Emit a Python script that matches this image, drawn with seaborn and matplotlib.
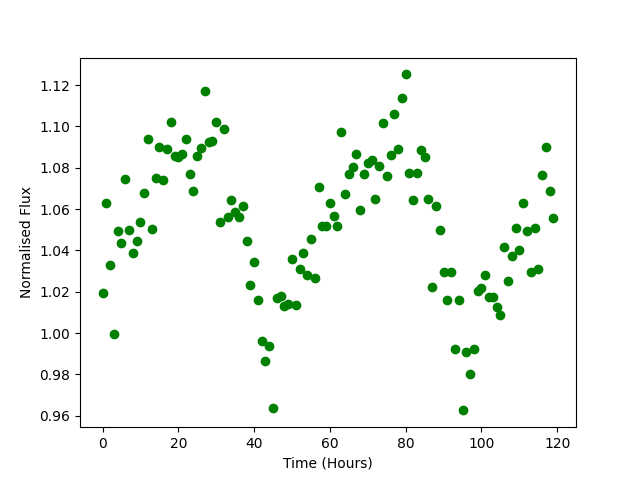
import matplotlib
matplotlib.use("Agg")
import matplotlib.pyplot as plt
import seaborn as sns
import pandas as pd

# Data
time_hours = [
    0, 1, 2, 3, 4, 5, 6, 7, 8, 9, 10, 11, 12, 13, 14, 15, 16, 17, 18, 19,
    20, 21, 22, 23, 24, 25, 26, 27, 28, 29, 30, 31, 32, 33, 34, 35, 36, 37, 38, 39,
    40, 41, 42, 43, 44, 45, 46, 47, 48, 49, 50, 51, 52, 53, 54, 55, 56, 57, 58, 59,
    60, 61, 62, 63, 64, 65, 66, 67, 68, 69, 70, 71, 72, 73, 74, 75, 76, 77, 78, 79,
    80, 81, 82, 83, 84, 85, 86, 87, 88, 89, 90, 91, 92, 93, 94, 95, 96, 97, 98, 99,
    100, 101, 102, 103, 104, 105, 106, 107, 108, 109, 110, 111, 112, 113, 114, 115, 116, 117, 118, 119,
]
flux = [
    1.0192, 1.0632, 1.0332, 0.9998, 1.0492, 1.0434, 1.0744, 1.0497, 1.0390, 1.0448,
    1.0536, 1.0676, 1.0937, 1.0502, 1.0753, 1.0903, 1.0739, 1.0889, 1.1020, 1.0858,
    1.0850, 1.0865, 1.0937, 1.0768, 1.0686, 1.0858, 1.0894, 1.1170, 1.0923, 1.0932,
    1.1024, 1.0540, 1.0990, 1.0560, 1.0642, 1.0584, 1.0560, 1.0613, 1.0448, 1.0231,
    1.0342, 1.0160, 0.9961, 0.9863, 0.9936, 0.9640, 1.0168, 1.0182, 1.0129, 1.0140,
    1.0361, 1.0134, 1.0308, 1.0390, 1.0279, 1.0456, 1.0269, 1.0705, 1.0516, 1.0516,
    1.0628, 1.0565, 1.0516, 1.0971, 1.0671, 1.0768, 1.0802, 1.0865, 1.0594, 1.0768,
    1.0821, 1.0837, 1.0647, 1.0807, 1.1015, 1.0758, 1.0860, 1.1058, 1.0889, 1.1136,
    1.1252, 1.0773, 1.0642, 1.0773, 1.0885, 1.0850, 1.0648, 1.0221, 1.0613, 1.0497,
    1.0294, 1.0158, 1.0298, 0.9921, 1.0158, 0.9626, 0.9911, 0.9800, 0.9921, 1.0202,
    1.0216, 1.0279, 1.0173, 1.0173, 1.0124, 1.0086, 1.0415, 1.0250, 1.0371, 1.0507,
    1.0400, 1.0632, 1.0492, 1.0294, 1.0507, 1.0308, 1.0763, 1.0903, 1.0690, 1.0555,
]

df = pd.DataFrame({"time": time_hours, "flux": flux})

fig, ax = plt.subplots(figsize=(6.4, 4.8), dpi=100)
sns.scatterplot(data=df, x="time", y="flux", ax=ax, color="green",
                edgecolor="green", linewidth=1, s=36)
ax.set_xlabel("Time (Hours)")
ax.set_ylabel("Normalised Flux")
plt.savefig("out.png")
